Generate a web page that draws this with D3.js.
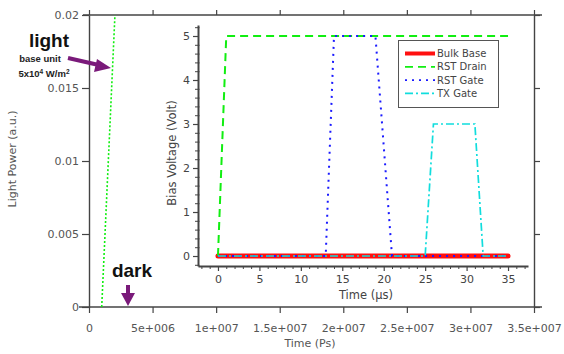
<!DOCTYPE html>
<html><head><meta charset="utf-8">
<script src="https://cdn.jsdelivr.net/npm/d3@7"></script>
<style>
body{margin:0;background:#fff;}
svg{display:block;}
svg text{font-family:"DejaVu Sans",sans-serif;}
</style></head>
<body><svg id="c" width="564" height="354"></svg>
<script>
// Outer chart data
const outerXTicks = [0, 5e6, 1e7, 1.5e7, 2e7, 2.5e7, 3e7, 3.5e7];
const outerXLabels = ["0","5e+006","1e+007","1.5e+007","2e+007","2.5e+007","3e+007","3.5e+007"];
const outerYTicks = [0, 0.005, 0.01, 0.015, 0.02];
const outerYLabels = ["0","0.005","0.01","0.015","0.02"];
const lightTime = [1e6, 2.04e6];
const lightPower = [0, 0.02];

// Inset chart data (Time µs, Volt)
const bulkBaseT = [0, 35];
const bulkBaseV = [0, 0];
const rstDrainT = [0, 1, 35];
const rstDrainV = [0, 5, 5];
const rstGateT = [0, 13, 14, 19, 21, 35];
const rstGateV = [0, 0, 5, 5, 0, 0];
const txGateT = [0, 25, 26, 31, 32, 35];
const txGateV = [0, 0, 3, 3, 0, 0];
const innerXTicks = [0,5,10,15,20,25,30,35];
const innerYTicks = [0,1,2,3,4,5];
const seriesNames = ["Bulk Base","RST Drain","RST Gate","TX Gate"];

const svg = d3.select("#c");
const axisCol = "#444";
const textCol = "#555";
const FONT = '"DejaVu Sans",sans-serif';

// ---------- outer chart ----------
const xO = d3.scaleLinear([0, 3.5e7], [89, 534]);
const yO = d3.scaleLinear([0, 0.02], [307, 15]);

function styleAxis(g, fs, col, w){
  g.attr("font-family", FONT);
  g.selectAll("path.domain").attr("stroke", axisCol).attr("stroke-width", w||1.4);
  g.selectAll(".tick line").attr("stroke", axisCol).attr("stroke-width", 1.2);
  g.selectAll(".tick text").attr("fill", col||textCol).style("font-size", fs+"px");
}

const gxB = svg.append("g").attr("transform", "translate(0,307)")
  .call(d3.axisBottom(xO).tickValues(outerXTicks).tickFormat((d,i)=>outerXLabels[i]).tickSize(6).tickSizeOuter(0).tickPadding(11));
styleAxis(gxB, 11);
const gxT = svg.append("g").attr("transform", "translate(0,15)")
  .call(d3.axisTop(xO).tickValues(outerXTicks).tickFormat("").tickSize(5).tickSizeOuter(0));
styleAxis(gxT, 11);
const gyL = svg.append("g").attr("transform", "translate(89,0)")
  .call(d3.axisLeft(yO).tickValues(outerYTicks).tickFormat((d,i)=>outerYLabels[i]).tickSize(7).tickSizeOuter(0).tickPadding(3));
styleAxis(gyL, 11);
const gyR = svg.append("g").attr("transform", "translate(534,0)")
  .call(d3.axisRight(yO).tickValues(outerYTicks).tickFormat("").tickSize(6).tickSizeOuter(0));
styleAxis(gyR, 11);
gxB.selectAll("path.domain").attr("d", `M${xO.range()[0]-10},0H${xO.range()[1]+8}`);
gxT.selectAll("path.domain").attr("d", `M${xO.range()[0]-6},0H${xO.range()[1]+8}`);

svg.append("text").attr("x", 310).attr("y", 347).attr("text-anchor","middle")
  .attr("fill", textCol).style("font-size","11px").text("Time (Ps)");
svg.append("text").attr("transform","translate(16,159) rotate(-90)").attr("text-anchor","middle")
  .attr("fill", textCol).style("font-size","11px").text("Light Power (a.u.)");

svg.append("path")
  .datum(lightTime.map((t,i)=>[t, lightPower[i]]))
  .attr("d", d3.line().x(d=>xO(d[0])).y(d=>yO(d[1])))
  .attr("fill","none").attr("stroke","#11ee11").attr("stroke-width",1.6).attr("stroke-dasharray","2,2");

// annotations
const purple = "#7a1a7a";
svg.append("text").attr("x", 49).attr("y", 47).attr("text-anchor","middle")
  .style("font-family",'"Liberation Sans",Arial,sans-serif')
  .style("font-size","19px").style("font-weight","bold").attr("fill","#111").text("light");
svg.append("text").attr("x", 40).attr("y", 62).attr("text-anchor","middle")
  .style("font-family",'"Liberation Sans",Arial,sans-serif')
  .style("font-size","9.5px").style("font-weight","bold").attr("fill","#222").text("base unit");
const t2 = svg.append("text").attr("x", 44).attr("y", 77).attr("text-anchor","middle")
  .style("font-family",'"Liberation Sans",Arial,sans-serif')
  .style("font-size","9.5px").style("font-weight","bold").attr("fill","#222");
t2.append("tspan").text("5x10");
t2.append("tspan").attr("dy",-3).style("font-size","6.5px").text("4");
t2.append("tspan").attr("dy",3).text(" W/m");
t2.append("tspan").attr("dy",-3).style("font-size","6.5px").text("2");
svg.append("line").attr("x1",68).attr("y1",58).attr("x2",101).attr("y2",65.5)
  .attr("stroke",purple).attr("stroke-width",4);
svg.append("path").attr("d","M111,68 L97,59 L94,72 Z").attr("fill",purple);

svg.append("text").attr("x", 132).attr("y", 277).attr("text-anchor","middle")
  .style("font-family",'"Liberation Sans",Arial,sans-serif')
  .style("font-size","19px").style("font-weight","bold").attr("fill","#111").text("dark");
svg.append("line").attr("x1",128).attr("y1",285).attr("x2",128).attr("y2",295)
  .attr("stroke",purple).attr("stroke-width",4);
svg.append("path").attr("d","M121,293 L135,293 L128,306 Z").attr("fill",purple);

// ---------- inset chart ----------
const xI = d3.scaleLinear([-2.41, 37.41], [198, 528]);
const yI = d3.scaleLinear([-0.227, 5.25], [266, 25]);

const ixMinor = d3.range(-2, 38, 1).filter(v=>v%5!==0);
const iyMinor = d3.range(-0.2, 5.21, 0.2).map(v=>+v.toFixed(1)).filter(v=>Math.abs(v-Math.round(v))>0.01);

const gix = svg.append("g").attr("transform","translate(0,266)")
  .call(d3.axisBottom(xI).tickValues(innerXTicks).tickFormat(d3.format("d")).tickSize(5).tickSizeOuter(0).tickPadding(4));
styleAxis(gix, 11, "#444", 2);
svg.append("g").attr("transform","translate(0,266)")
  .call(d3.axisBottom(xI).tickValues(ixMinor).tickFormat("").tickSize(3).tickSizeOuter(0))
  .call(g=>{g.select("path.domain").remove(); g.selectAll("line").attr("stroke",axisCol);});
const giy = svg.append("g").attr("transform","translate(198,0)")
  .call(d3.axisLeft(yI).tickValues(innerYTicks).tickFormat(d3.format("d")).tickSize(5).tickSizeOuter(0).tickPadding(3));
styleAxis(giy, 11, "#444", 2);
svg.append("g").attr("transform","translate(198,0)")
  .call(d3.axisLeft(yI).tickValues(iyMinor).tickFormat("").tickSize(3).tickSizeOuter(0))
  .call(g=>{g.select("path.domain").remove(); g.selectAll("line").attr("stroke",axisCol).attr("x2",-3).attr("x1",1.5);});

svg.append("text").attr("x", 366).attr("y", 299).attr("text-anchor","middle")
  .attr("fill", "#444").style("font-size","11.5px").text("Time (\u00b5s)");
svg.append("text").attr("transform","translate(176,153) rotate(-90)").attr("text-anchor","middle")
  .attr("fill", "#444").style("font-size","11.5px").text("Bias Voltage (Volt)");

const lineI = d3.line().x(d=>xI(d[0])).y(d=>yI(d[1]));
const series = [
  {name:seriesNames[0], t:bulkBaseT, v:bulkBaseV, color:"#ff1010", width:5, dash:null},
  {name:seriesNames[1], t:rstDrainT, v:rstDrainV, color:"#11ee11", width:2, dash:"8,5"},
  {name:seriesNames[2], t:rstGateT, v:rstGateV, color:"#1a1aff", width:2, dash:"2,5"},
  {name:seriesNames[3], t:txGateT, v:txGateV, color:"#11dddd", width:1.7, dash:"8,3,2,3"}
];
series.forEach(s=>{
  svg.append("path").datum(s.t.map((t,i)=>[t, s.v[i]])).attr("d", lineI)
    .attr("fill","none").attr("stroke", s.color).attr("stroke-width", s.width)
    .attr("stroke-dasharray", s.dash).attr("stroke-linecap", s.dash ? "butt" : "round");
});

// legend
const lg = svg.append("g");
lg.append("rect").attr("x",398.5).attr("y",40.5).attr("width",100).attr("height",67)
  .attr("fill","#fff").attr("stroke","#555").attr("stroke-width",1);
series.forEach((s,i)=>{
  const y = 53.5 + i*13.3;
  lg.append("line").attr("x1",405).attr("x2",435).attr("y1",y).attr("y2",y)
    .attr("stroke", s.color).attr("stroke-width", i===0?4:1.8)
    .attr("stroke-dasharray", s.dash);
  lg.append("text").attr("x",437).attr("y",y+3.5).attr("fill","#444")
    .style("font-size","10px").text(s.name);
});
</script></body></html>
